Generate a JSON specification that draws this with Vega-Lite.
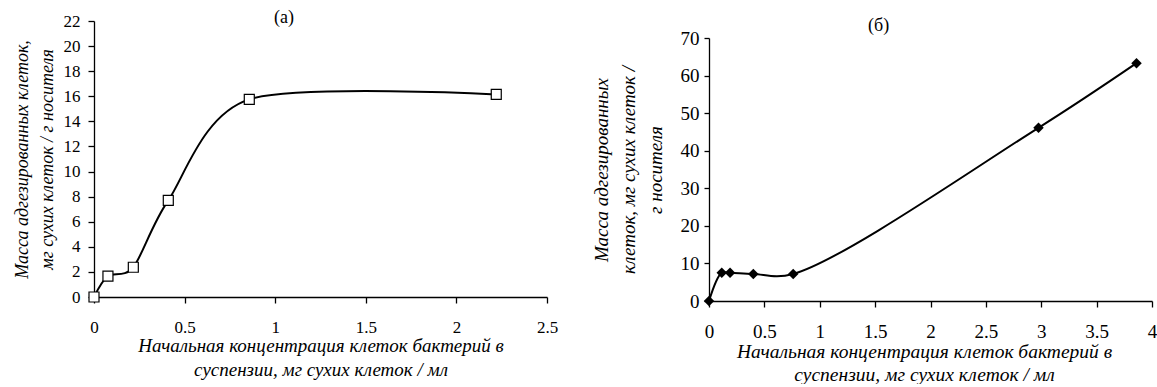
{
  "$schema": "https://vega.github.io/schema/vega-lite/v6.json",
  "background": "white",
  "padding": {"left": 12, "top": 9, "right": 0, "bottom": 0},
  "bounds": "flush",
  "spacing": 162,
  "config": {
    "view": {"stroke": null},
    "font": "Liberation Serif",
    "axis": {
      "grid": false, "domainColor": "#000", "domainWidth": 1.3, "tickColor": "#000", "tickWidth": 1.3, "tickSize": 6,
      "labelColor": "#000", "labelFont": "Liberation Serif", "labelFontSize": 18, "labelFlush": false, "labelOverlap": false,
      "titleFont": "Liberation Serif", "titleFontSize": 18, "titleFontStyle": "italic", "titleFontWeight": "normal", "titleColor": "#000", "titleLineHeight": 25
    },
    "title": {"font": "Liberation Serif", "fontSize": 18, "fontWeight": "normal", "color": "#000"}
  },
  "hconcat": [
    {
      "width": 453,
      "height": 276,
      "title": {"text": "(а)", "frame": "group", "anchor": "start", "dx": 180, "offset": -24, "baseline": "middle"},
      "data": {"values": [
        {"x": 0, "y": 0},
        {"x": 0.077, "y": 1.67},
        {"x": 0.217, "y": 2.37},
        {"x": 0.41, "y": 7.7},
        {"x": 0.857, "y": 15.75},
        {"x": 2.22, "y": 16.15}
      ]},
      "encoding": {
        "x": {"field": "x", "type": "quantitative", "scale": {"domain": [0, 2.5], "nice": false},
          "axis": {"values": [0, 0.5, 1, 1.5, 2, 2.5], "format": "~g", "labelPadding": 16, "labelFontSize": 17, "titlePadding": 1, "titleFontSize": 19, "titleLineHeight": 24,
            "title": ["Начальная концентрация клеток бактерий в", "суспензии, мг сухих клеток / мл"]}},
        "y": {"field": "y", "type": "quantitative", "scale": {"domain": [0, 22], "nice": false},
          "axis": {"values": [0, 2, 4, 6, 8, 10, 12, 14, 16, 18, 20, 22], "labelPadding": 8, "labelFontSize": 17, "titlePadding": 7,
            "title": ["Масса адгезированных клеток,", "мг сухих клеток / г носителя"]}}
      },
      "layer": [
        {"mark": {"type": "line", "interpolate": "cardinal", "tension": 0.15, "color": "#000", "strokeWidth": 2}},
        {"mark": {"type": "point", "shape": "square", "size": 100, "filled": true, "fill": "white", "stroke": "#000", "strokeWidth": 1.2, "opacity": 1}}
      ]
    },
    {
      "width": 443,
      "height": 280,
      "title": {"text": "(б)", "frame": "group", "anchor": "start", "dx": 159, "offset": -23, "baseline": "middle"},
      "data": {"values": [
        {"x": 0, "y": 0},
        {"x": 0.115, "y": 7.5},
        {"x": 0.19, "y": 7.5},
        {"x": 0.4, "y": 7.2},
        {"x": 0.76, "y": 7.2},
        {"x": 2.975, "y": 46.1},
        {"x": 3.86, "y": 63.3}
      ]},
      "encoding": {
        "x": {"field": "x", "type": "quantitative", "scale": {"domain": [0, 4], "nice": false},
          "axis": {"values": [0, 0.5, 1, 1.5, 2, 2.5, 3, 3.5, 4], "format": "~g", "labelPadding": 15, "labelFontSize": 19, "titlePadding": 1, "titleFontSize": 19.5, "titleLineHeight": 23, "titleX": 215,
            "title": ["Начальная концентрация клеток бактерий в", "суспензии, мг сухих клеток / мл"]}},
        "y": {"field": "y", "type": "quantitative", "scale": {"domain": [0, 70], "nice": false, "range": [280, 17]},
          "axis": {"values": [0, 10, 20, 30, 40, 50, 60, 70], "labelPadding": 5, "labelFontSize": 19, "tickSize": 5, "titlePadding": 15, "titleFontSize": 19,
            "title": ["Масса адгезированных", "клеток, мг сухих клеток /", "г носителя"], "titleLineHeight": 27}}
      },
      "layer": [
        {"mark": {"type": "line", "interpolate": "catmull-rom", "color": "#000", "strokeWidth": 2}},
        {"mark": {"type": "point", "shape": "diamond", "size": 110, "filled": true, "color": "#000", "opacity": 1}}
      ]
    }
  ]
}
